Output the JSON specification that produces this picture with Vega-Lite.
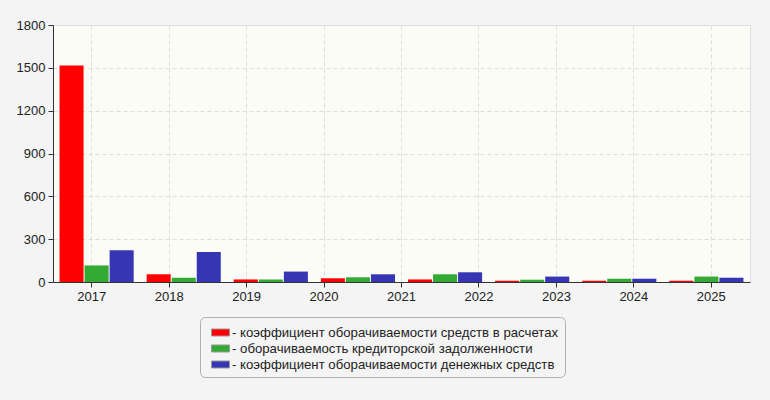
{
  "$schema": "https://vega.github.io/schema/vega-lite/v6.json",
  "width": 697,
  "height": 257,
  "autosize": {"type": "none"},
  "padding": {"left": 53, "top": 25, "right": 20, "bottom": 118},
  "background": "#f4f4f4",
  "config": {
    "font": "Liberation Sans",
    "view": {"fill": "#fcfcf7", "stroke": "#dddddd"},
    "axis": {
      "labelFont": "Liberation Sans",
      "labelFontSize": 13,
      "labelColor": "#222222",
      "domainColor": "#333333",
      "tickColor": "#333333",
      "tickSize": 5,
      "gridColor": "#dddddd",
      "gridDash": [4, 3],
      "title": null
    }
  },
  "datasets": {
    "bars": [
      {"period": "2017", "series": "коэффициент оборачиваемости средств в расчетах", "value": 1517},
      {"period": "2017", "series": "оборачиваемость кредиторской задолженности", "value": 116},
      {"period": "2017", "series": "коэффициент оборачиваемости денежных средств", "value": 222},
      {"period": "2018", "series": "коэффициент оборачиваемости средств в расчетах", "value": 54},
      {"period": "2018", "series": "оборачиваемость кредиторской задолженности", "value": 30},
      {"period": "2018", "series": "коэффициент оборачиваемости денежных средств", "value": 210},
      {"period": "2019", "series": "коэффициент оборачиваемости средств в расчетах", "value": 18},
      {"period": "2019", "series": "оборачиваемость кредиторской задолженности", "value": 18},
      {"period": "2019", "series": "коэффициент оборачиваемости денежных средств", "value": 73},
      {"period": "2020", "series": "коэффициент оборачиваемости средств в расчетах", "value": 26},
      {"period": "2020", "series": "оборачиваемость кредиторской задолженности", "value": 33},
      {"period": "2020", "series": "коэффициент оборачиваемости денежных средств", "value": 54},
      {"period": "2021", "series": "коэффициент оборачиваемости средств в расчетах", "value": 18},
      {"period": "2021", "series": "оборачиваемость кредиторской задолженности", "value": 54},
      {"period": "2021", "series": "коэффициент оборачиваемости денежных средств", "value": 68},
      {"period": "2022", "series": "коэффициент оборачиваемости средств в расчетах", "value": 9},
      {"period": "2022", "series": "оборачиваемость кредиторской задолженности", "value": 16},
      {"period": "2022", "series": "коэффициент оборачиваемости денежных средств", "value": 38},
      {"period": "2023", "series": "коэффициент оборачиваемости средств в расчетах", "value": 9},
      {"period": "2023", "series": "оборачиваемость кредиторской задолженности", "value": 23},
      {"period": "2023", "series": "коэффициент оборачиваемости денежных средств", "value": 23},
      {"period": "2024", "series": "коэффициент оборачиваемости средств в расчетах", "value": 9},
      {"period": "2024", "series": "оборачиваемость кредиторской задолженности", "value": 38},
      {"period": "2024", "series": "коэффициент оборачиваемости денежных средств", "value": 30}
    ],
    "years": [
      {"year": "2017"}, {"year": "2018"}, {"year": "2019"}, {"year": "2020"},
      {"year": "2021"}, {"year": "2022"}, {"year": "2023"}, {"year": "2024"},
      {"year": "2025"}
    ]
  },
  "layer": [
    {
      "data": {"name": "bars"},
      "mark": {"type": "bar"},
      "encoding": {
        "x": {
          "field": "period",
          "type": "nominal",
          "axis": null,
          "scale": {"paddingInner": 0.149, "paddingOuter": 0.075}
        },
        "xOffset": {
          "field": "series",
          "type": "nominal",
          "scale": {
            "domain": [
              "коэффициент оборачиваемости средств в расчетах",
              "оборачиваемость кредиторской задолженности",
              "коэффициент оборачиваемости денежных средств"
            ],
            "paddingInner": 0.04,
            "paddingOuter": 0
          }
        },
        "y": {
          "field": "value",
          "type": "quantitative",
          "scale": {"domain": [0, 1800], "nice": false},
          "axis": {
            "values": [0, 300, 600, 900, 1200, 1500, 1800],
            "format": "d",
            "grid": true,
            "labelPadding": 3
          }
        },
        "color": {
          "field": "series",
          "type": "nominal",
          "scale": {
            "domain": [
              "коэффициент оборачиваемости средств в расчетах",
              "оборачиваемость кредиторской задолженности",
              "коэффициент оборачиваемости денежных средств"
            ],
            "range": ["#ff0000", "#33aa33", "#3636b4"]
          },
          "legend": {
            "title": null,
            "orient": "none",
            "legendX": 147,
            "legendY": 292,
            "direction": "vertical",
            "fillColor": "#f4f4f4",
            "strokeColor": "#b0b0b0",
            "cornerRadius": 5,
            "padding": 6,
            "rowPadding": 0,
            "symbolType": "M-1,-0.39H1V0.39H-1Z",
            "symbolSize": 324,
            "symbolStrokeColor": "#999999",
            "symbolStrokeWidth": 1,
            "symbolOffset": 5,
            "labelFont": "Liberation Sans",
            "labelFontSize": 13.2,
            "labelColor": "#222222",
            "labelOffset": 2,
            "labelLimit": 400,
            "labelExpr": "'- ' + datum.label"
          }
        }
      }
    },
    {
      "data": {"name": "years"},
      "mark": {"type": "point", "opacity": 0},
      "encoding": {
        "x": {
          "field": "year",
          "type": "nominal",
          "scale": {"type": "band", "padding": 0},
          "axis": {"grid": true, "labelAngle": 0, "labelPadding": 3}
        }
      }
    }
  ],
  "resolve": {"scale": {"x": "independent"}}
}
